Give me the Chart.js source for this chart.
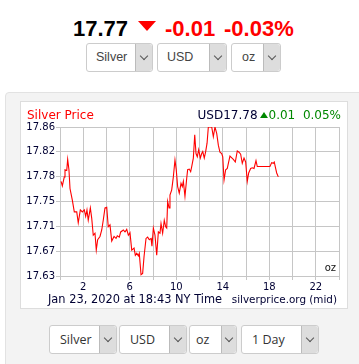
<!DOCTYPE html>
<html>
<head>
<meta charset="utf-8">
<script src="https://cdn.jsdelivr.net/npm/chart.js@4"></script>
<style>
  body { margin: 0; width: 359px; height: 364px; background: #fff; overflow: hidden; position: relative; font-family: "Liberation Sans", Arial, sans-serif; }
  .abs { position: absolute; white-space: nowrap; }
  .big { font-size: 22px; font-weight: bold; line-height: 26px; top: 16px; }
  .tri-down { width: 0; height: 0; border-left: 9.5px solid transparent; border-right: 9.5px solid transparent; border-top: 10px solid #f00; left: 138px; top: 21px; }
  .sel { position: absolute; height: 27px; border: 1px solid #ccc; border-radius: 3px; background: #fff; box-sizing: content-box; }
  .sel span.t { position: absolute; top: 0; line-height: 27px; font-size: 12.5px; color: #444; }
  .sel span.a { position: absolute; top: 0; right: 0; bottom: 0; background: #ddd; border-left: 1px solid #bbb; border-radius: 0 3px 3px 0; }
  .sel span.a:after { content: ""; position: absolute; left: 50%; top: 50%; width: 5px; height: 5px; margin: -5px 0 0 -3px; border-right: 1px solid #555; border-bottom: 1px solid #555; transform: rotate(45deg); }
  .low span.t { font-family: "Open Sans", sans-serif; font-size: 12.5px; color: #333; }
  .panel { left: 5px; top: 92px; width: 370px; height: 300px; background: #f3f3f3; border: 1px solid #e2e2e2; border-radius: 4px; }
  .box { left: 20px; top: 101px; width: 326px; height: 206px; background: #fff; border: 1px solid #ddd; }
  .dv { font-family: "DejaVu Sans", Verdana, sans-serif; }
</style>
</head>
<body>
<div class="abs big" style="left:73px;color:#000">17.77</div>
<div class="abs tri-down"></div>
<div class="abs big" style="left:165px;color:#f00">-0.01</div>
<div class="abs big" style="left:224px;color:#f00">-0.03%</div>

<div class="sel" style="left:86px;top:43px;width:65px"><span class="t" style="left:9px">Silver</span><span class="a" style="width:16px"></span></div>
<div class="sel" style="left:157px;top:43px;width:68px"><span class="t" style="left:9px">USD</span><span class="a" style="width:16px"></span></div>
<div class="sel" style="left:231px;top:43px;width:48px"><span class="t" style="left:10px">oz</span><span class="a" style="width:16px"></span></div>

<div class="abs panel"></div>
<div class="abs box"></div>
<canvas id="silverChart" width="327" height="207" style="position:absolute;left:20px;top:101px"></canvas>

<div class="abs dv" style="left:27px;top:108px;font-size:12px;line-height:14px;color:#f00">Silver Price</div>
<div class="abs dv" style="right:18px;top:108px;font-size:12px;line-height:14px">
  <span style="color:#000033">USD17.78</span><span style="display:inline-block;width:0;height:0;border-left:4px solid transparent;border-right:4px solid transparent;border-bottom:6px solid #080;margin:0 1px 1px 2px"></span><span style="color:#080">0.01&nbsp;&nbsp;0.05%</span>
</div>
<div class="abs dv" style="left:48px;top:292px;font-size:11.4px;line-height:14px;color:#000033">Jan 23, 2020 at 18:43 NY Time</div>
<div class="abs dv" style="right:22px;top:292px;font-size:10.4px;line-height:14px;color:#000033">silverprice.org (mid)</div>

<div class="sel low" style="left:49px;top:325px;width:66px"><span class="t" style="left:10px">Silver</span><span class="a" style="width:16px"></span></div>
<div class="sel low" style="left:119px;top:325px;width:66px"><span class="t" style="left:10px">USD</span><span class="a" style="width:16px"></span></div>
<div class="sel low" style="left:189px;top:325px;width:46px"><span class="t" style="left:6px">oz</span><span class="a" style="width:14px"></span></div>
<div class="sel low" style="left:241px;top:325px;width:76px"><span class="t" style="left:10px">1 Day</span><span class="a" style="width:16px"></span></div>

<script>
// hours since midnight (NY time) and mid price in USD/oz
const hours = [0.09, 0.2, 0.37, 0.43, 0.58, 0.66, 0.77, 0.86, 1.06, 1.23, 1.44, 1.57, 1.75, 1.92, 2.09, 2.21, 2.32, 2.43, 2.61, 2.73,
  2.86, 3.01, 3.12, 3.24, 3.44, 3.59, 3.72, 3.87, 4.02, 4.15, 4.3, 4.45, 4.65, 4.82, 4.93, 5.1, 5.22, 5.45, 5.59, 5.74,
  5.88, 6.02, 6.17, 6.37, 6.48, 6.6, 6.74, 6.82, 6.97, 7.11, 7.23, 7.4, 7.54, 7.68, 7.83, 7.91, 8.03, 8.17, 8.32, 8.46,
  8.6, 8.69, 8.83, 8.97, 9.09, 9.18, 9.26, 9.38, 9.46, 9.61, 9.75, 9.89, 10.0, 10.12, 10.26, 10.41, 10.52, 10.61, 10.75, 10.9,
  10.98, 11.12, 11.24, 11.33, 11.47, 11.59, 11.7, 11.81, 11.93, 12.07, 12.19, 12.28, 12.41, 12.53, 12.65, 12.76, 12.9, 13.05, 13.19, 13.33,
  13.48, 13.62, 13.76, 13.91, 14.0, 14.11, 14.25, 14.39, 14.51, 14.62, 14.8, 14.91, 15.08, 15.25, 15.4, 15.54, 15.68, 15.83, 15.97, 16.11,
  16.23, 16.4, 16.54, 16.69, 16.86, 16.97, 18.06, 18.21, 18.35, 18.43, 18.55, 18.64, 18.78];
const prices = [17.776, 17.769, 17.783, 17.794, 17.793, 17.810, 17.794, 17.765, 17.747, 17.729, 17.729, 17.712, 17.732, 17.729, 17.732, 17.722, 17.732, 17.716, 17.735, 17.719,
  17.693, 17.696, 17.670, 17.686, 17.691, 17.701, 17.716, 17.735, 17.736, 17.706, 17.709, 17.684, 17.691, 17.688, 17.692, 17.690, 17.698, 17.701, 17.698, 17.702,
  17.693, 17.697, 17.670, 17.673, 17.662, 17.665, 17.661, 17.665, 17.632, 17.634, 17.660, 17.688, 17.690, 17.686, 17.688, 17.676, 17.704, 17.693, 17.662, 17.698,
  17.696, 17.711, 17.696, 17.716, 17.706, 17.704, 17.745, 17.735, 17.755, 17.763, 17.783, 17.809, 17.794, 17.768, 17.758, 17.773, 17.768, 17.776, 17.753, 17.781,
  17.794, 17.795, 17.791, 17.799, 17.812, 17.848, 17.819, 17.814, 17.825, 17.812, 17.819, 17.822, 17.812, 17.822, 17.835, 17.860, 17.860, 17.860, 17.845, 17.860,
  17.850, 17.832, 17.821, 17.819, 17.814, 17.778, 17.794, 17.796, 17.806, 17.815, 17.812, 17.810, 17.806, 17.823, 17.821, 17.818, 17.804, 17.812, 17.806, 17.776,
  17.789, 17.796, 17.797, 17.796, 17.808, 17.799, 17.799, 17.805, 17.804, 17.806, 17.796, 17.789, 17.783];

const yTickLabels = ['17.63', '17.67', '17.71', '17.75', '17.78', '17.82', '17.86'];
const xTickLabels = [2, 6, 10, 14, 18, 22];

const yMin = parseFloat(yTickLabels[0]);
const yMax = parseFloat(yTickLabels[yTickLabels.length - 1]);
const gridColor = '#c6c6c6';
const tickFont = { family: 'DejaVu Sans', size: 10 };

const ozLabel = {
  id: 'ozLabel',
  afterDraw(chart) {
    const { ctx, chartArea } = chart;
    ctx.save();
    ctx.font = '10px "DejaVu Sans"';
    ctx.fillStyle = '#111';
    ctx.textAlign = 'right';
    ctx.textBaseline = 'bottom';
    ctx.fillText('oz', chartArea.right - 3, chartArea.bottom - 3);
    ctx.restore();
  }
};

const ctx = document.getElementById('silverChart').getContext('2d');
const silverChart = new Chart(ctx, {
  type: 'line',
  data: {
    datasets: [{
      data: hours.map((h, i) => ({ x: h, y: prices[i] })),
      borderColor: '#ff0000',
      borderWidth: 1.1,
      pointRadius: 0,
      tension: 0
    }]
  },
  options: {
    responsive: false,
    animation: false,
    layout: { padding: { top: 26, left: 0, right: 8, bottom: 14 } },
    plugins: { legend: { display: false }, tooltip: { enabled: false } },
    scales: {
      x: {
        type: 'linear',
        min: 0,
        max: 24,
        afterFit: (s) => { s.height = 18; },
        grid: { color: gridColor, tickLength: 4 },
        border: { color: gridColor },
        ticks: {
          stepSize: 2,
          autoSkip: false,
          maxRotation: 0,
          padding: 1,
          color: '#000033',
          font: tickFont,
          callback: (v) => xTickLabels.includes(v) ? String(v) : ''
        }
      },
      y: {
        min: yMin,
        max: yMax,
        afterFit: (s) => { s.width = 40; },
        afterBuildTicks: (s) => {
          s.ticks = yTickLabels.map((l, i) => ({ value: yMin + i * (yMax - yMin) / (yTickLabels.length - 1) }));
        },
        grid: { color: gridColor, tickLength: 4 },
        border: { color: gridColor },
        ticks: {
          padding: 1,
          color: '#000033',
          font: tickFont,
          callback: (v, i) => yTickLabels[i]
        }
      }
    }
  },
  plugins: [ozLabel]
});
</script>
</body>
</html>
